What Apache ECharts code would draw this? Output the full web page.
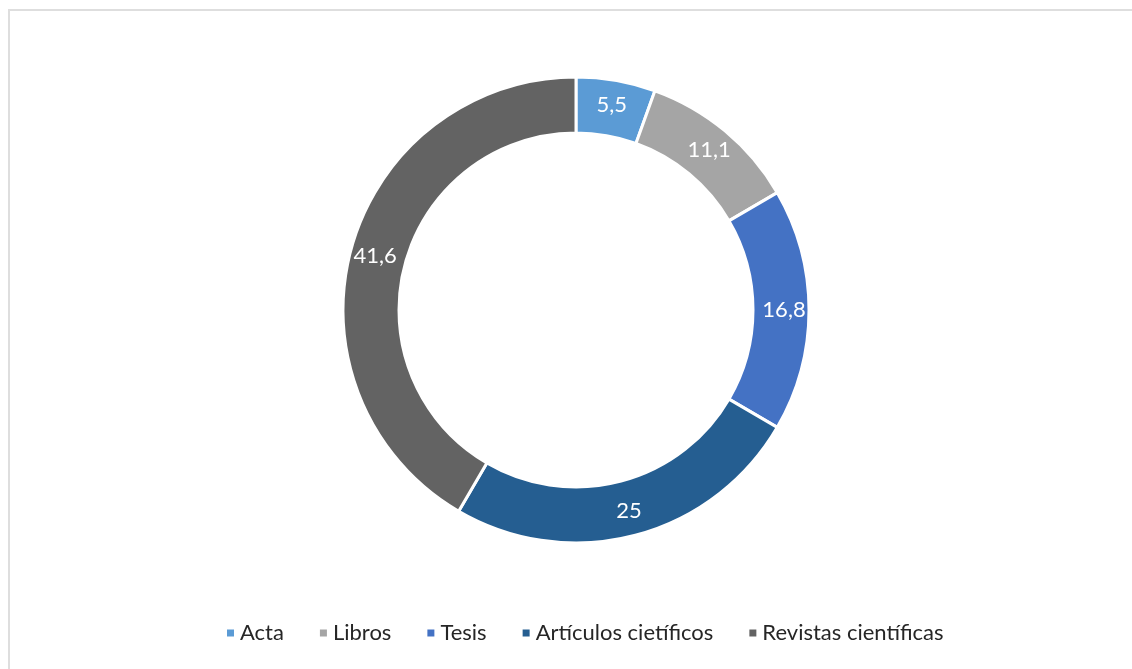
<!DOCTYPE html>
<html>
<head>
<meta charset="utf-8">
<title>Tipos de documentos</title>
<script src="https://cdn.jsdelivr.net/npm/echarts@6/dist/echarts.min.js"></script>
<style>
  html, body { margin: 0; padding: 0; background: #fff; }
  #main { width: 1132px; height: 669px; }
</style>
</head>
<body>
<div id="main"></div>
<script>
    // categorías y valores (%)
    var categories = ['Acta', 'Libros', 'Tesis', 'Artículos cietíficos', 'Revistas científicas'];
    var values = [5.5, 11.1, 16.8, 25, 41.6];
    var colors = ['#5B9BD5', '#A5A5A5', '#4472C4', '#255E91', '#636363'];

    var myChart = echarts.init(document.getElementById('main'));

    var pieData = [];
    for (var i = 0; i < categories.length; i++) {
        pieData.push({ name: categories[i], value: values[i] });
    }

    var option = {
        color: colors,
        animation: false,
        graphic: [
            {
                type: 'rect',
                shape: { x: 9, y: 10, width: 1140, height: 680 },
                style: { fill: 'none', stroke: '#dedede', lineWidth: 2 }
            }
        ],
        legend: {
            data: categories,
            top: 617,
            left: 220,
            icon: 'rect',
            itemWidth: 9,
            itemHeight: 9,
            itemGap: 34,
            textStyle: {
                fontFamily: 'Lato',
                fontSize: 22,
                color: '#262626'
            }
        },
        series: [
            {
                type: 'pie',
                center: [576, 310],
                radius: [177, 233],
                startAngle: 90,
                clockwise: true,
                itemStyle: {
                    borderColor: '#fff',
                    borderWidth: 3
                },
                label: {
                    show: true,
                    position: 'inside',
                    color: '#fff',
                    fontFamily: 'Lato',
                    fontSize: 22,
                    formatter: function (p) {
                        return String(p.value).replace('.', ',');
                    }
                },
                labelLine: { show: false },
                data: pieData
            }
        ]
    };
    myChart.setOption(option);
</script>
</body>
</html>
